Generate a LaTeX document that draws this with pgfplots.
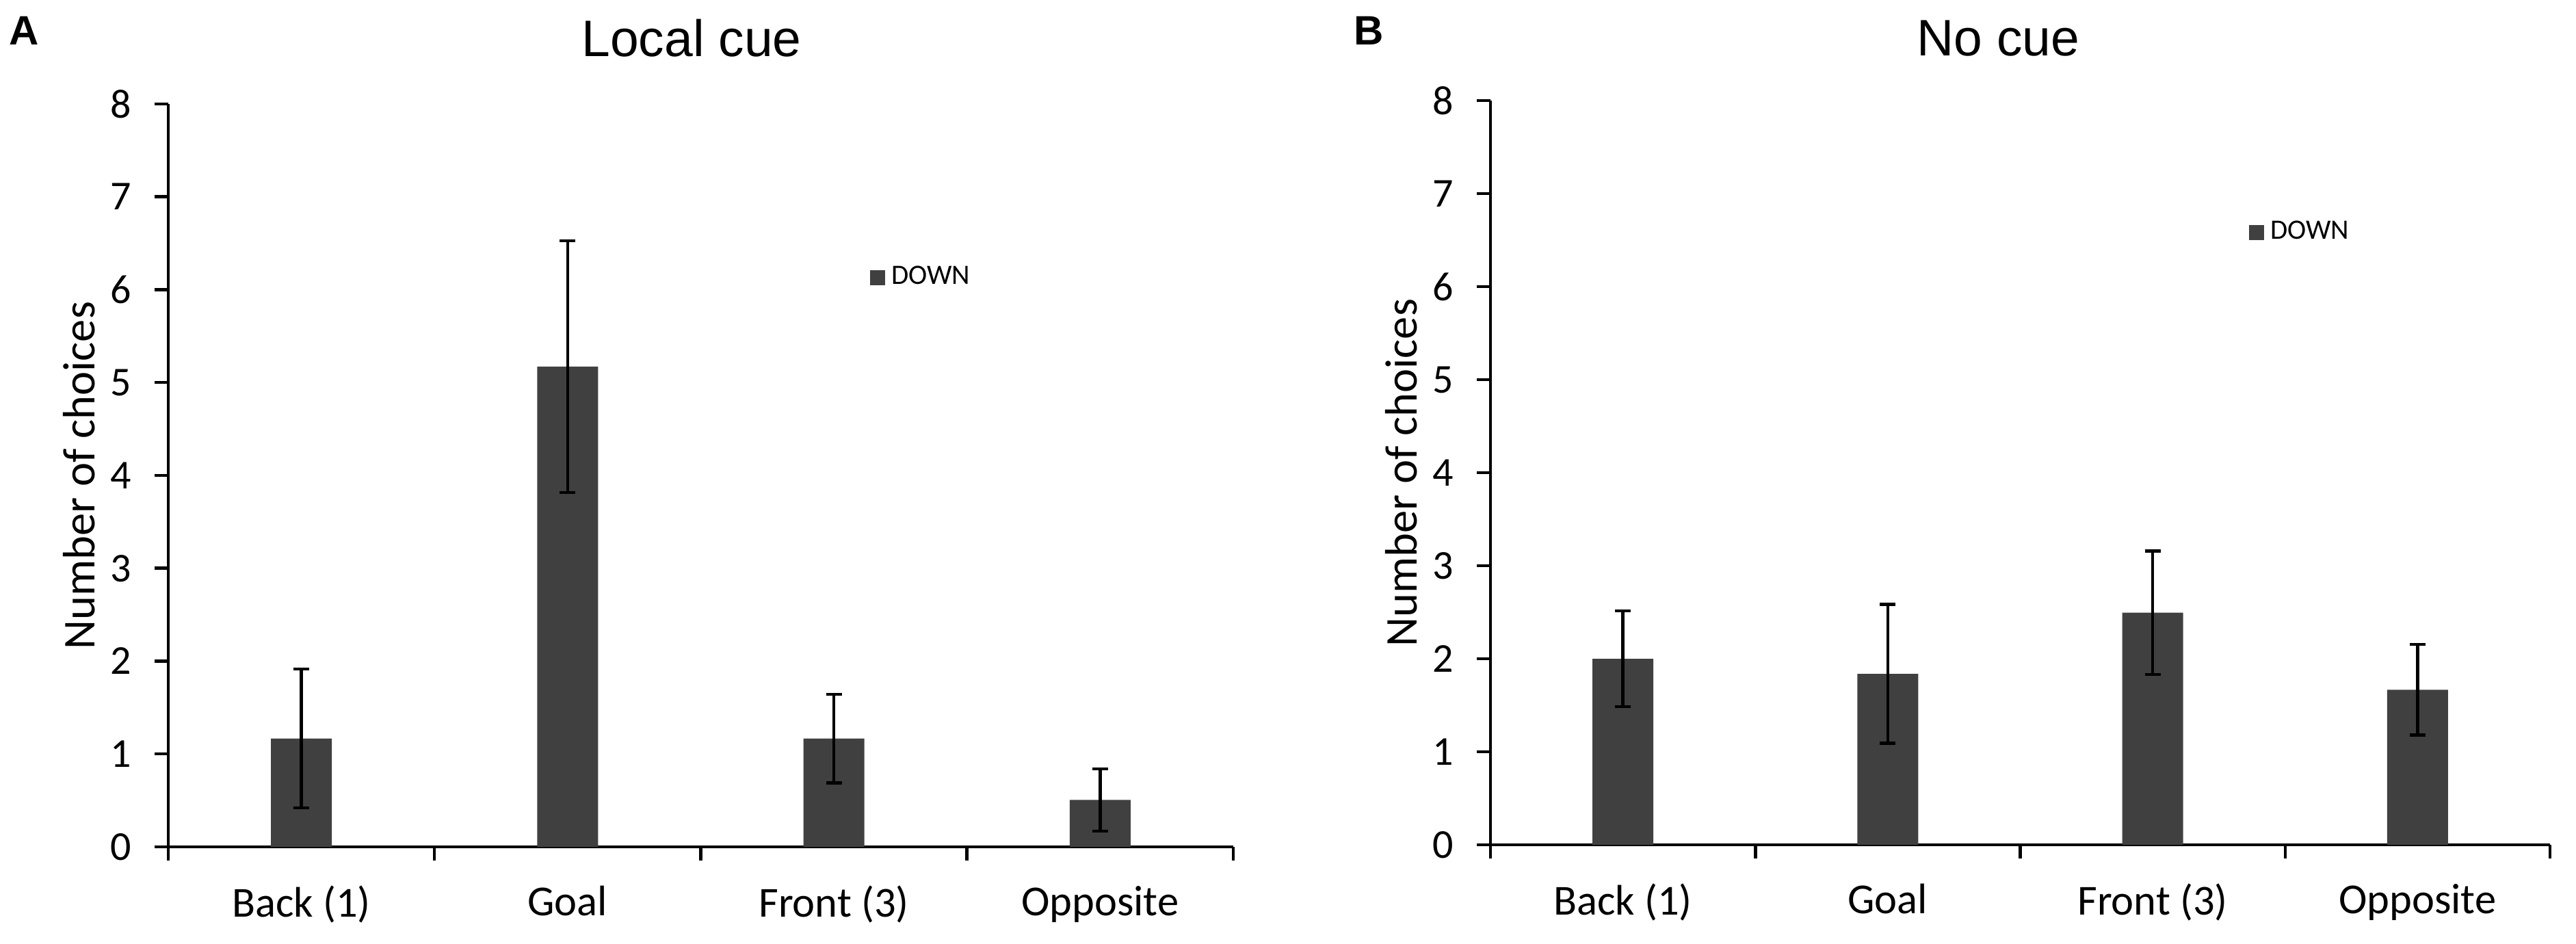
\documentclass[border=0pt]{standalone}
\usepackage{fontspec}
\setmainfont{Carlito}
\newfontfamily\arialfont{Liberation Sans}
\usepackage{pgfplots}
\pgfplotsset{compat=1.18}
\definecolor{barc}{HTML}{404040}

\pgfplotstableread{
x y e
0 1.167 0.748
1 5.172 1.355
2 1.167 0.477
3 0.505 0.335
}\localcue

\pgfplotstableread{
x y e
0 2.000 0.515
1 1.838 0.745
2 2.495 0.665
3 1.667 0.487
}\nocue

\pgfplotsset{
  myax/.style={
    scale only axis,
    anchor=south west,
    xmin=-0.5, xmax=3.5, ymin=0, ymax=8,
    axis x line*=bottom, axis y line*=left,
    axis line style={line width=0.9pt, black},
    ytick={0,1,...,8},
    xtick={0,1,2,3},
    xticklabels={Back (1),Goal,Front (3),Opposite},
    minor xtick={-0.5,0.5,1.5,2.5,3.5},
    tick align=outside,
    major tick length=4pt, minor tick length=4pt,
    major x tick style={draw=none},
    minor x tick style={line width=0.9pt, black},
    y tick style={line width=0.9pt, black},
    yticklabel style={font=\fontsize{12}{14}\selectfont, xshift=-3.2pt},
    xticklabel style={font=\fontsize{12.5}{15}\selectfont, yshift=-3.9pt},
    /pgf/number format/assume math mode=true,
    ylabel={Number of choices},
    every axis y label/.style={at={(axis description cs:-0.084,0.5)}, rotate=90, anchor=center,
      font=\fontsize{13.3}{15}\selectfont},
    ybar, bar width=17.8pt,
    legend style={draw=none, fill=none, inner sep=0pt, anchor=west,
      font=\fontsize{8.2}{10}\selectfont, legend cell align=left},
  },
  barplot/.style={
    fill=barc, draw=none,
    legend image code/.code={\fill[barc] (0pt,-2.2pt) rectangle (4.4pt,2.2pt);},
    error bars/.cd, y dir=both, y explicit,
    error bar style={line width=0.9pt, black},
    error mark options={rotate=90, line width=0.9pt, black, mark size=2.3pt},
  },
}

\begin{document}
\begin{tikzpicture}
\useasboundingbox (0,0) rectangle (753.2pt,276pt);
\begin{axis}[myax, at={(49.2pt,28.4pt)}, width=311.4pt, height=217.2pt,
  legend style={at={(0.658,0.766)}}]
\addplot[barplot] table[x=x, y=y, y error=e]{\localcue};
\legend{DOWN}
\end{axis}
\begin{axis}[myax, at={(435.8pt,29pt)}, width=309.8pt, height=217.6pt,
  legend style={at={(0.715,0.8226)}}]
\addplot[barplot] table[x=x, y=y, y error=e]{\nocue};
\legend{DOWN}
\end{axis}
\node[font=\arialfont\fontsize{15}{17}\selectfont] at (202.2pt,264.8pt) {Local cue};
\node[font=\arialfont\fontsize{15}{17}\selectfont] at (584.3pt,264.8pt) {No cue};
\node[font=\arialfont\bfseries\fontsize{12}{14}\selectfont] at (7pt,267.1pt) {A};
\node[font=\arialfont\bfseries\fontsize{12}{14}\selectfont] at (400.3pt,267.1pt) {B};
\end{tikzpicture}
\end{document}
